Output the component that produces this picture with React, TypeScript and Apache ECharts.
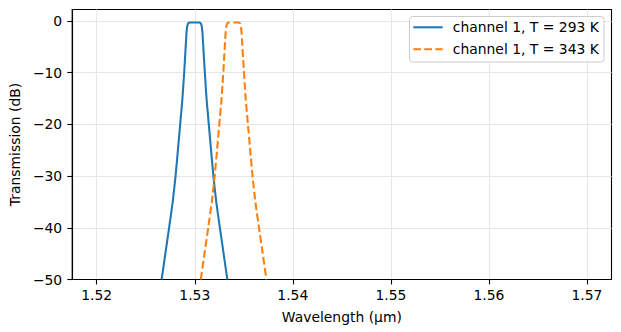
import React, { useEffect, useRef } from "react";
import * as echarts from "echarts";

const X_TICKS = [1.52, 1.53, 1.54, 1.55, 1.56, 1.57];
const Y_TICKS = [-50, -40, -30, -20, -10, 0];

const blueWl = [
  1.52662, 1.527, 1.52738, 1.52775, 1.52804, 1.52828, 1.52851, 1.52873, 1.52883, 1.52893,
  1.52901, 1.52909, 1.52915, 1.52922, 1.5293, 1.52939, 1.52947, 1.52997, 1.53047, 1.53055,
  1.53064, 1.53072, 1.53079, 1.53085, 1.53093, 1.53102, 1.53111, 1.53121, 1.53143, 1.53166,
  1.5319, 1.53219, 1.53256, 1.53294, 1.53332,
];
const blueDb = [
  -50, -45, -40, -35, -30, -25, -20, -15.3, -12.5, -9.7,
  -7, -4.4, -2.5, -1.2, -0.6, -0.35, -0.3, -0.3, -0.3, -0.35,
  -0.6, -1.2, -2.5, -4.4, -7, -9.7, -12.5, -15.3, -20, -25,
  -30, -35, -40, -45, -50,
];

const orangeWl = [
  1.53061, 1.53099, 1.53137, 1.53174, 1.53203, 1.53227, 1.5325, 1.53272, 1.53282, 1.53292,
  1.533, 1.53308, 1.53314, 1.53321, 1.53329, 1.53338, 1.53346, 1.53396, 1.53446, 1.53454,
  1.53463, 1.53471, 1.53478, 1.53484, 1.53492, 1.53501, 1.5351, 1.5352, 1.53542, 1.53565,
  1.53589, 1.53618, 1.53655, 1.53693, 1.53731,
];
const orangeDb = [
  -50, -45, -40, -35, -30, -25, -20, -15.3, -12.5, -9.7,
  -7, -4.4, -2.5, -1.2, -0.6, -0.35, -0.3, -0.3, -0.3, -0.35,
  -0.6, -1.2, -2.5, -4.4, -7, -9.7, -12.5, -15.3, -20, -25,
  -30, -35, -40, -45, -50,
];

const SERIES_NAMES = ["channel 1, T = 293 K", "channel 1, T = 343 K"];
const COLORS = ["#1f77b4", "#ff7f0e"];

const FONT = "DejaVu Sans";
const FS = 13.9;
const LW = 2.08;
const DASH = [7.7, 3.3];

export default function App() {
  const ref = useRef<HTMLDivElement>(null);
  useEffect(() => {
    if (!ref.current) return;
    const chart = echarts.init(ref.current, null, { renderer: "svg" });
    const zip = (xs: number[], ys: number[]) => xs.map((x, i) => [x, ys[i]]);
    const legendRows = SERIES_NAMES.map((name, i) => {
      const y = 27.3 + i * 22;
      return [
        {
          type: "line",
          shape: { x1: 413.3, y1: y, x2: 442.7, y2: y },
          style: {
            stroke: COLORS[i],
            lineWidth: LW,
            lineDash: i === 1 ? DASH : null,
          },
          z: 101,
        },
        {
          type: "text",
          x: 452.8,
          y: y,
          style: {
            text: name,
            fill: "#000",
            font: `${FS}px "${FONT}"`,
            verticalAlign: "middle",
            align: "left",
          },
          z: 101,
        },
      ];
    }).flat();
    chart.setOption({
      animation: false,
      backgroundColor: "#ffffff",
      grid: {
        left: 69.5,
        right: 9.5,
        top: 9.5,
        bottom: 52.5,
        show: true,
        borderColor: "#000",
        borderWidth: 1.1,
        backgroundColor: "transparent",
      },
      xAxis: {
        type: "value",
        min: 1.5175,
        max: 1.5725,
        axisLine: { show: true, onZero: false, lineStyle: { color: "#000", width: 1.1 } },
        axisTick: { show: true, length: 4.9, lineStyle: { color: "#000", width: 1.1 }, customValues: X_TICKS },
        axisLabel: {
          customValues: X_TICKS,
          formatter: (v: number) => v.toFixed(2),
          color: "#000",
          fontSize: FS,
          fontFamily: FONT,
          margin: 8,
        },
        splitLine: { show: true, lineStyle: { color: "#e6e6e6", width: 1.1 } },
        name: "Wavelength (µm)",
        nameLocation: "middle",
        nameGap: 30,
        nameTextStyle: { color: "#000", fontSize: FS, fontFamily: FONT },
      },
      yAxis: {
        type: "value",
        min: -50,
        max: 2.2,
        axisLine: { show: true, onZero: false, lineStyle: { color: "#000", width: 1.1 } },
        axisTick: { show: true, length: 4.9, lineStyle: { color: "#000", width: 1.1 }, customValues: Y_TICKS },
        axisLabel: {
          customValues: Y_TICKS,
          formatter: (v: number) => (v < 0 ? "\u2212" + Math.abs(v) : String(v)),
          color: "#000",
          fontSize: FS,
          fontFamily: FONT,
          margin: 10,
        },
        splitLine: { show: true, lineStyle: { color: "#e6e6e6", width: 1.1 } },
        name: "Transmission (dB)",
        nameLocation: "middle",
        nameGap: 44,
        nameTextStyle: { color: "#000", fontSize: FS, fontFamily: FONT },
      },
      graphic: [
        {
          type: "rect",
          shape: { x: 409.5, y: 16.5, width: 194.5, height: 45.5, r: 3 },
          style: { fill: "rgba(255,255,255,0.8)", stroke: "#cccccc", lineWidth: 1 },
          z: 100,
        },
        ...legendRows,
      ],
      series: [
        {
          name: SERIES_NAMES[0],
          type: "line",
          data: zip(blueWl, blueDb),
          showSymbol: false,
          symbol: "none",
          smooth: 0.15,
          clip: true,
          lineStyle: { color: COLORS[0], width: LW },
          itemStyle: { color: COLORS[0] },
        },
        {
          name: SERIES_NAMES[1],
          type: "line",
          data: zip(orangeWl, orangeDb),
          showSymbol: false,
          symbol: "none",
          smooth: 0.15,
          clip: true,
          lineStyle: { color: COLORS[1], width: LW, type: DASH },
          itemStyle: { color: COLORS[1] },
        },
      ],
    });
    return () => chart.dispose();
  }, []);
  return (
    <div
      ref={ref}
      style={{ position: "absolute", left: 0, top: 0, width: 621, height: 332, background: "#fff" }}
    />
  );
}
